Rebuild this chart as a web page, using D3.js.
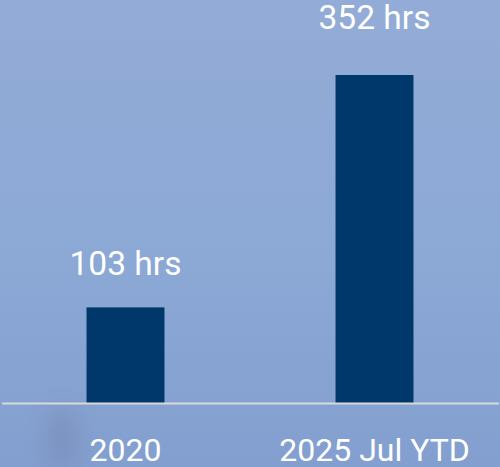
<!DOCTYPE html>
<html>
<head>
<meta charset="utf-8">
<style>
body { margin: 0; }
.lbl { font-family: Roboto, sans-serif; font-size: 32px; fill: #fff; }
.val { font-size: 33.5px; }
</style>
</head>
<body>
<script src="https://d3js.org/d3.v7.min.js"></script>
<script>

var categories = ["2020", "2025 Jul YTD"];
var values = [103, 352];
var valueLabels = ["103 hrs", "352 hrs"];

var width = 500, height = 467;
var baseY = 403.5;

var svg = d3.select("body").append("svg")
  .attr("width", width)
  .attr("height", height);

var defs = svg.append("defs");
var grad = defs.append("linearGradient")
  .attr("id", "bg").attr("x1", 0).attr("y1", 0).attr("x2", 0).attr("y2", 1);
grad.append("stop").attr("offset", "0%").attr("stop-color", "#93acd7");
grad.append("stop").attr("offset", "55%").attr("stop-color", "#8ca8d5");
grad.append("stop").attr("offset", "100%").attr("stop-color", "#839fcf");

var blur = defs.append("filter").attr("id", "blur")
  .attr("x", "-100%").attr("y", "-100%").attr("width", "300%").attr("height", "300%");
blur.append("feGaussianBlur").attr("stdDeviation", 12);

svg.append("rect")
  .attr("width", width).attr("height", height)
  .attr("fill", "url(#bg)");

// faint dark smudge from the photo behind, lower left
svg.append("ellipse")
  .attr("cx", 62).attr("cy", 440).attr("rx", 14).attr("ry", 34)
  .attr("fill", "#6f7fa8").attr("opacity", 0.45)
  .attr("filter", "url(#blur)");

var x = d3.scaleBand()
  .domain(categories)
  .range([0, 500])
  .paddingInner(0.687)
  .paddingOuter(0.3475);

var y = d3.scaleLinear()
  .domain([0, 352])
  .range([baseY, 75]);

svg.selectAll(".bar")
  .data(values)
  .enter().append("rect")
  .attr("class", "bar")
  .attr("x", function(d, i) { return x(categories[i]); })
  .attr("y", function(d) { return y(d); })
  .attr("width", x.bandwidth())
  .attr("height", function(d) { return baseY - y(d); })
  .attr("fill", "#00386c");

svg.append("line")
  .attr("x1", 2).attr("x2", 499)
  .attr("y1", baseY).attr("y2", baseY)
  .attr("stroke", "#d9d9d9").attr("stroke-width", 2);

var offsets = [32, 46];
svg.selectAll(".val")
  .data(values)
  .enter().append("text")
  .attr("class", "lbl val")
  .attr("text-anchor", "middle")
  .attr("x", function(d, i) { return x(categories[i]) + x.bandwidth() / 2; })
  .attr("y", function(d, i) { return y(d) - offsets[i]; })
  .text(function(d, i) { return valueLabels[i]; });

svg.selectAll(".cat")
  .data(categories)
  .enter().append("text")
  .attr("class", "lbl")
  .attr("text-anchor", "middle")
  .attr("x", function(d) { return x(d) + x.bandwidth() / 2; })
  .attr("y", 461)
  .text(function(d) { return d; });

</script>
</body>
</html>
